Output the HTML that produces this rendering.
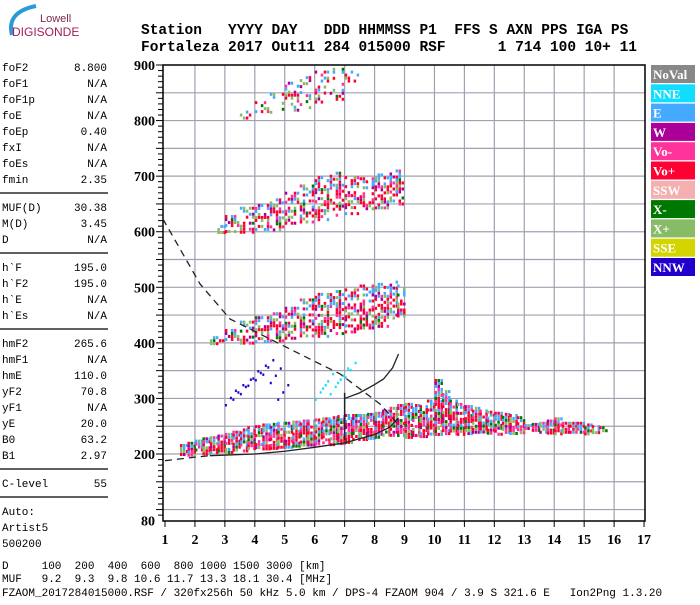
<!DOCTYPE html>
<html><head><meta charset="utf-8"><style>
body{margin:0;background:#fff;}
svg text{font-family:"Liberation Mono",monospace;}
.ax{font-family:"Liberation Serif",serif;font-weight:bold;font-size:14px;}
</style></head><body>
<svg id="chart" width="700" height="600" viewBox="0 0 700 600" xmlns="http://www.w3.org/2000/svg">
<g>
<path d="M12 35 Q6 12 36 6" stroke="#2a9ad6" stroke-width="4" fill="none"/>
<text x="40" y="22" font-size="11" fill="#7a2a4a" style="font-family:'Liberation Sans',sans-serif">Lowell</text>
<text x="12" y="36" font-size="12" fill="#a0205a" style="font-family:'Liberation Sans',sans-serif">DIGISONDE</text>
</g>
<g font-weight="bold" font-size="14.5">
<text x="141" y="34" xml:space="preserve">Station   YYYY DAY   DDD HHMMSS P1  FFS S AXN PPS IGA PS</text>
<text x="141" y="51" xml:space="preserve">Fortaleza 2017 Out11 284 015000 RSF      1 714 100 10+ 11</text>
</g>
<g id="leftpanel" font-size="11"></g>
<g id="plot"></g>
<g id="legend"></g>
<g font-size="11">
<text x="2" y="569" xml:space="preserve">D     100  200  400  600  800 1000 1500 3000 [km]</text>
<text x="2" y="582" xml:space="preserve">MUF   9.2  9.3  9.8 10.6 11.7 13.3 18.1 30.4 [MHz]</text>
<text x="2" y="596" xml:space="preserve">FZAOM_2017284015000.RSF / 320fx256h 50 kHz 5.0 km / DPS-4 FZAOM 904 / 3.9 S 321.6 E   Ion2Png 1.3.20</text>
</g>
</svg>
<script>
// ---- data ----
const xTicks=[1,2,3,4,5,6,7,8,9,10,11,12,13,14,15,16,17];
const yTickLabels=[80,200,300,400,500,600,700,800,900];
const legendNames=['NoVal','NNE','E','W','Vo-','Vo+','SSW','X-','X+','SSE','NNW'];
const legendColors=['#888888','#11ddff','#44aaff','#aa0099','#ff3399','#ff0033','#f4b0b0','#007700','#88bb66','#d4d400','#2200cc'];
const mainFreq=[1.5,1.75,2,2.25,2.5,2.75,3,3.25,3.5,3.75,4,4.25,4.5,4.75,5,5.25,5.5,5.75,6,6.25,6.5,6.75,7,7.25,7.5,7.75,8,8.25,8.5,8.75,9,9.25,9.5,9.75,10,10.25,10.5,10.75,11,11.25,11.5,11.75,12,12.25,12.5,12.75,13,13.25,13.5,13.75,14,14.25,14.5,14.75,15,15.25,15.5];
const mainLow=[200,200,201,202,203,204,205,206,207,208,209,210,211,212,213,214,215,216,217,218,219,220,222,224,226,228,230,232,233,233,232,232,234,235,236,237,236,236,236,237,237,238,238,238,238,240,245,243,240,240,238,240,240,238,238,240,242];
const mainHigh=[218,222,226,230,232,235,238,242,246,250,252,255,256,258,258,260,262,262,264,266,268,270,272,272,272,274,276,280,285,290,292,290,288,298,335,315,298,292,288,285,280,278,276,274,272,268,254,256,258,262,266,258,258,258,255,252,250];
const hop2Freq=[2.5,3,3.5,4,4.5,5,5.5,6,6.5,7,7.5,8,8.5,8.75];
const hop2Low=[398,400,401,402,405,408,410,412,416,420,428,432,437,445];
const hop2High=[412,425,440,448,455,465,480,490,495,498,505,508,512,505];
const hop3Freq=[2.75,3,3.5,4,4.5,5,5.5,6,6.5,7,7.5,8,8.5];
const hop3Low=[598,600,600,603,606,610,615,620,628,635,640,645,648];
const hop3High=[612,630,645,650,660,672,685,700,708,700,698,705,712];
const hop4Freq=[3.5,4,4.5,5,5.5,6,6.5,7];
const hop4Low=[806,810,815,820,825,835,840,870];
const hop4High=[818,835,850,870,880,890,895,890];
const oxFreq=[3,3.25,3.5,3.75,4,4.25,4.5,4.75,6,6.25,6.5,6.75,7];
const oxH=[290,300,310,325,335,345,330,300,300,320,310,330,340];
const dashUpperF=[0.93,2.17,3.17,4.5,5.5,6.85,8.18,8.78];
const dashUpperH=[623,506,443,407,380,344,290,254];
const profLowF=[2.5,4,5,6,7,8,8.5,8.8];
const profLowH=[197,200,205,212,220,235,248,265];
const profDashF=[1,1.8,2.5];
const profDashH=[188,193,197];
const profUpF=[7,7.5,8,8.3,8.6,8.8];
const profUpH=[300,310,325,335,355,380];
const leftRows=[['foF2','8.800'],['foF1','N/A'],['foF1p','N/A'],['foE','N/A'],['foEp','0.40'],['fxI','N/A'],['foEs','N/A'],['fmin','2.35'],null,['MUF(D)','30.38'],['M(D)','3.45'],['D','N/A'],null,['h`F','195.0'],['h`F2','195.0'],['h`E','N/A'],['h`Es','N/A'],null,['hmF2','265.6'],['hmF1','N/A'],['hmE','110.0'],['yF2','70.8'],['yF1','N/A'],['yE','20.0'],['B0','63.2'],['B1','2.97'],null,['C-level','55'],null,['Auto:',''],['Artist5',''],['500200','']];

// ---- helpers ----
const NS='http://www.w3.org/2000/svg';
const L=163,R=645,T=65,B=521;
function X(f){return 165+(f-1)*29.94;}
function Y(h){return 454-(h-200)*0.5557;}
function mk(tag,attrs,parent){const e=document.createElementNS(NS,tag);for(const k in attrs)e.setAttribute(k,attrs[k]);parent.appendChild(e);return e;}
const plot=document.getElementById('plot');

for(let f=2;f<=16;f++){
  const l=mk('line',{x1:X(f),x2:X(f),y1:T,y2:B,stroke:'#a0a0b0','stroke-width':1.2},plot);
  
  
}
for(let h=100;h<=850;h+=50){
  const l=mk('line',{x1:L,x2:R,y1:Y(h),y2:Y(h),stroke:'#a0a0b0','stroke-width':1.2},plot);
  
  
}
const frame=mk('rect',{x:L,y:T,width:R-L,height:B-T,fill:'none',stroke:'#000','stroke-width':1.5},plot);


for(let h=90;h<=900;h+=10){
  const big=h%50===0;
  mk('line',{x1:L-(big?7:5),x2:L,y1:Y(h),y2:Y(h),stroke:'#000','stroke-width':1},plot);
}
yTickLabels.forEach(v=>{
  const t=mk('text',{x:L-8,y:Y(v)+5,'text-anchor':'end',class:'ax'},plot);
  
  
  t.textContent=v;
});
xTicks.forEach(v=>{
  mk('line',{x1:X(v),x2:X(v),y1:B,y2:B+6,stroke:'#000'},plot);
  const t=mk('text',{x:X(v),y:B+23,'text-anchor':'middle',class:'ax'},plot);
  
  
  t.textContent=v;
});

const pal=['#ff0033','#ff3399','#007700','#ff0033','#88bb66','#aa0099','#44aaff','#ff0033','#ff3399','#88bb66','#ff0033'];
function trace(fr,lo,hi,dens,name,bluish){
  const g=mk('g',{},plot);
  
  
  for(let i=0;i<fr.length;i++){
    const step=i<fr.length-1?fr[i+1]-fr[i]:fr[i]-fr[i-1];
    const x0=X(fr[i]),x1=X(fr[i]+step);
    const y0=Y(hi[i]),y1=Y(lo[i]);
    let c=0;
    for(let x=x0;x<x1-1;x+=3){
      c++;
      for(let y=y0,k=0;y<y1;y+=3,k++){
        const hsh=((k*37+c*17+i*29+k*c*13+k*k*7)%23)/23;
        if(hsh>=dens)continue;
        let col=pal[(k*5+c*3+i*7+k*c)%pal.length];
        if(bluish && y<y0+(y1-y0)*0.3 && (k+c)%3===0) col='#44aaff';
        const d=mk('rect',{x:x,y:y,width:2.5,height:3,fill:col},g);
        
        
      }
    }
  }
}
trace(mainFreq,mainLow,mainHigh,0.82,'f-trace-echoes',true);
trace(hop2Freq,hop2Low,hop2High,0.55,'second-hop-echoes',true);
trace(hop3Freq,hop3Low,hop3High,0.5,'third-hop-echoes',true);
trace(hop4Freq,hop4Low,hop4High,0.3,'fourth-hop-echoes',true);
const og=mk('g',{},plot);


oxFreq.forEach((f,i)=>{
  for(let k=0;k<3;k++){
    const d=mk('rect',{x:X(f)+k*5,y:Y(oxH[i]+k*13),width:2,height:2.5,fill:f<5?'#2200cc':'#11ddff'},og);
    
    
  }
});

function line(F,H,name,dash,w){
  const p=mk('polyline',{points:F.map((f,i)=>X(f)+','+Y(H[i])).join(' '),fill:'none',stroke:'#222','stroke-width':w,'stroke-dasharray':dash||'none'},plot);
  
  
}
line(dashUpperF,dashUpperH,'model-dashed-curve','7,5',1.3);
line(profDashF,profDashH,'profile-extrapolation','7,5',1.3);
line(profLowF,profLowH,'profile-trace',null,1.3);
line(profUpF,profUpH,'profile-upper-branch',null,1.3);
line([7,7],[225,310],'fof2-marker',null,1.5);

const lg=document.getElementById('legend');
legendNames.forEach((n,i)=>{
  const y=65+i*19.3;
  const r=mk('rect',{x:651,y:y,width:44,height:18,fill:legendColors[i]},lg);
  
  
  const t=mk('text',{x:653,y:y+14,fill:'#fff','font-size':13,'font-weight':'bold',style:"font-family:'Liberation Serif',serif"},lg);
  
  
  t.textContent=n;
});

const lp=document.getElementById('leftpanel');
let y=71;
leftRows.forEach(r=>{
  if(r===null){
    const s=mk('line',{x1:0,x2:108,y1:y-6,y2:y-6,stroke:'#000','stroke-width':1.2},lp);
    
    
    y+=12;return;
  }
  const a=mk('text',{x:2,y:y},lp);
  
  
  a.textContent=r[0];
  if(r[1]){
    const b=mk('text',{x:107,y:y,'text-anchor':'end'},lp);
    
    
    b.textContent=r[1];
  }
  y+=16;
});
</script>
</body></html>
